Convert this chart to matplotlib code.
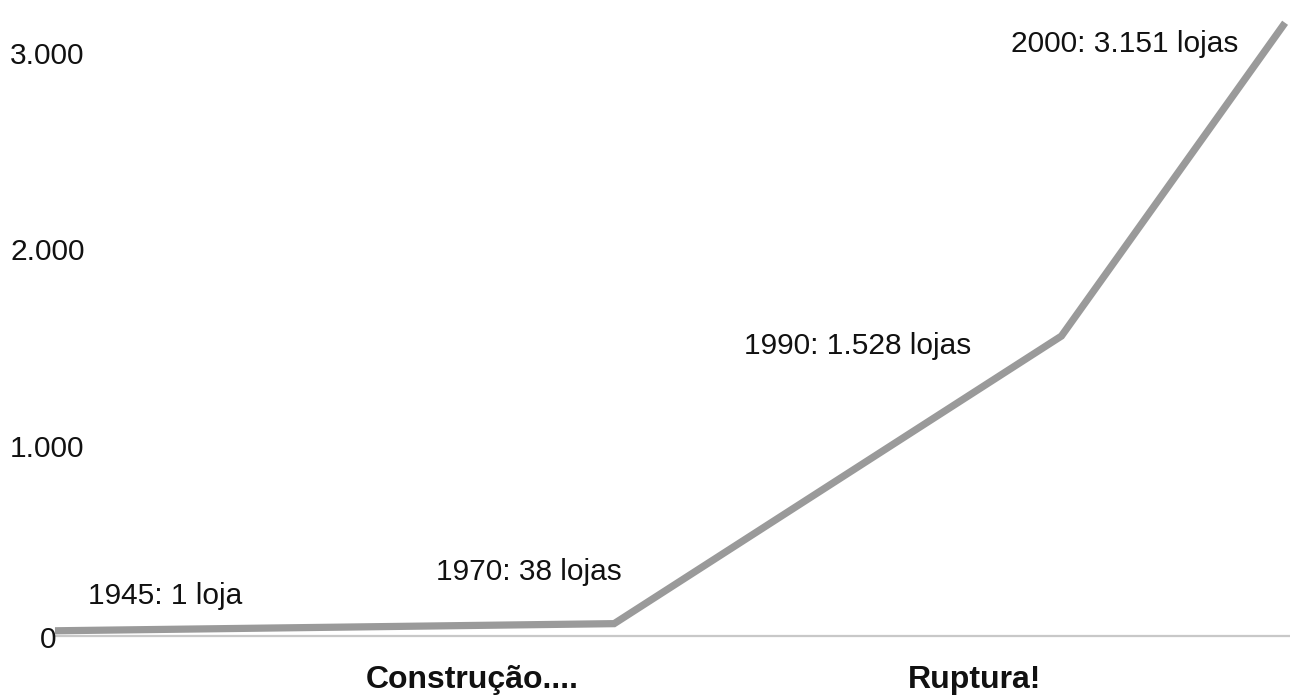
import matplotlib.pyplot as plt
from matplotlib.transforms import blended_transform_factory

plt.rcParams['font.family'] = ['Liberation Sans', 'DejaVu Sans']

# dados
anos = [1945, 1970, 1990, 2000]
lojas = [1, 38, 1528, 3151]
rotulos = ["1945: 1 loja", "1970: 38 lojas", "1990: 1.528 lojas", "2000: 3.151 lojas"]
yticks = [0, 1000, 2000, 3000]
ytick_labels = ["0", "1.000", "2.000", "3.000"]
fases = ["Construção....", "Ruptura!"]

fig = plt.figure(figsize=(12.9, 7), dpi=100)
ax = fig.add_axes([55 / 1290, 64 / 700, 1 - 55 / 1290, 636 / 700])

ax.plot(anos, lojas, color="#9a9a9a", lw=5.2, solid_capstyle="butt",
        solid_joinstyle="miter", clip_on=False, zorder=3)

ax.set_xlim(1945, 2000.22)
ax.set_ylim(-26, 3269)

for s in ["top", "right", "left"]:
    ax.spines[s].set_visible(False)
ax.spines["bottom"].set_color("#c8c8c8")
ax.spines["bottom"].set_linewidth(1.6)
ax.set_xticks([])
ax.set_yticks([])

# rótulos do eixo y
tr = blended_transform_factory(ax.transAxes, ax.transData)
ylab_x = [-0.012, -0.0364, -0.0364, -0.0364]
ylab_dy = [-45, -55, -35, -20]
for v, lab, xx, dy in zip(yticks, ytick_labels, ylab_x, ylab_dy):
    ax.text(xx, v + dy, lab, transform=tr, ha="left", va="center",
            fontsize=21.5, color="#111111", clip_on=False)

# anotações dos pontos
offsets = [(33, 35), (8, 52), (-90, -10), (-47, -21)]
alinh = ["left", "right", "right", "right"]
for x, y, t, off, ha in zip(anos, lojas, rotulos, offsets, alinh):
    ax.annotate(t, xy=(x, y), xytext=(off[0], -off[1] * -1), textcoords="offset pixels",
                ha=ha, va="center", fontsize=21.5, color="#111111")

# fases
fig.text(472 / 1290, 1 - 680 / 700, fases[0], ha="center", va="center",
         fontsize=23, fontweight="bold", color="#111111")
fig.text(975 / 1290, 1 - 680 / 700, fases[1], ha="center", va="center",
         fontsize=23, fontweight="bold", color="#111111")

fig.savefig("out.png", dpi=100, facecolor="white")
